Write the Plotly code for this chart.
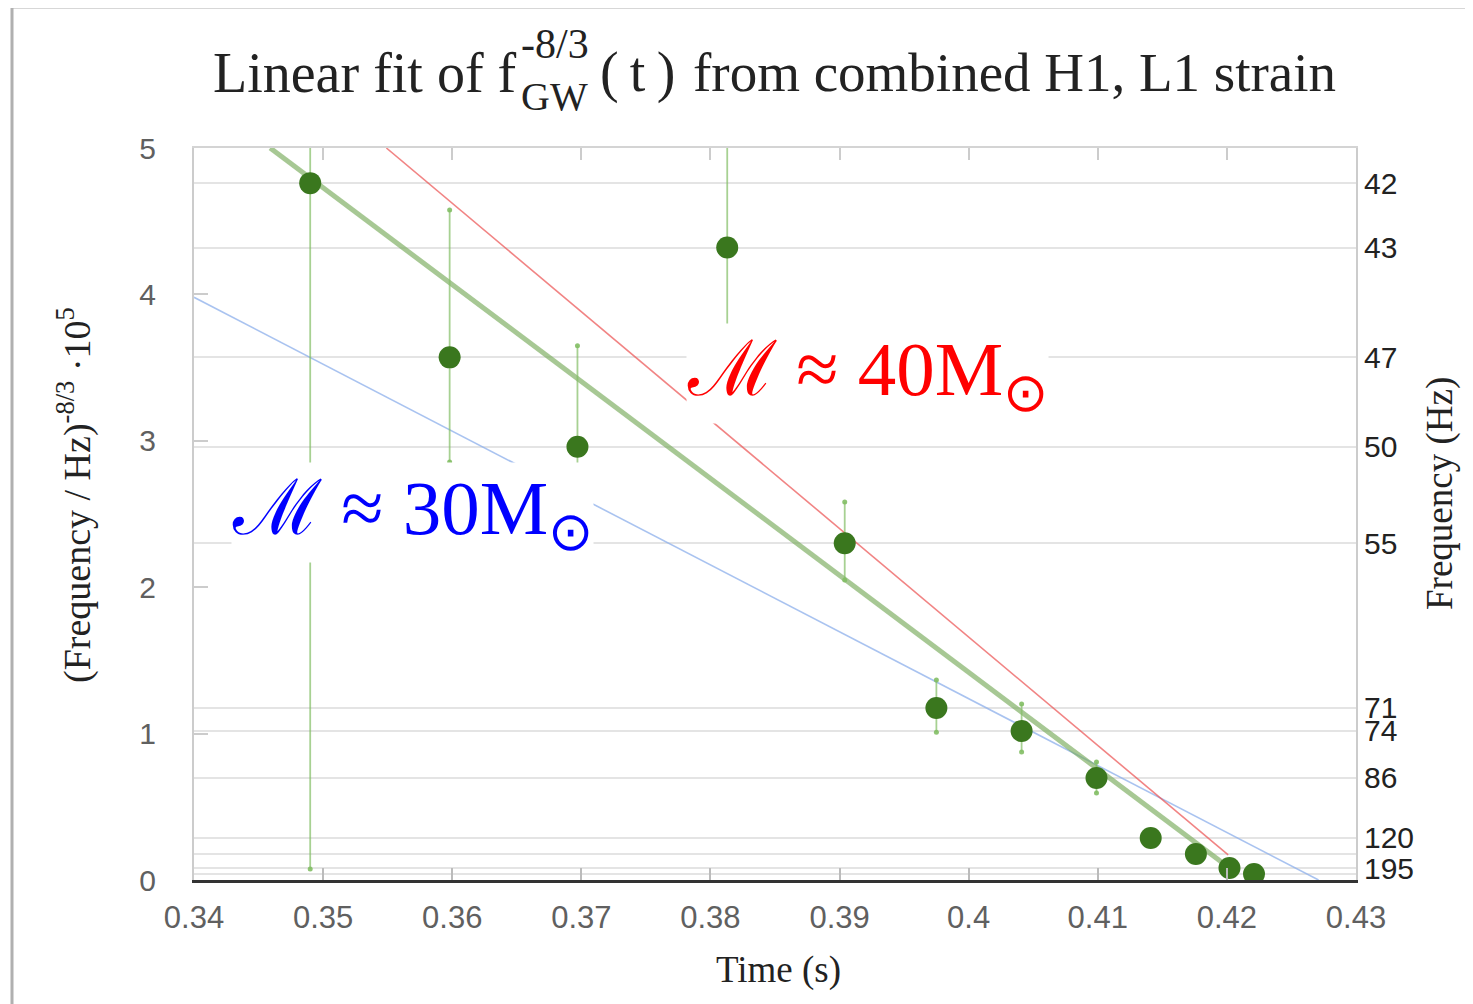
import plotly.graph_objects as go

# ---------------- data ----------------
time_s = [0.3490, 0.3598, 0.3697, 0.3813, 0.3904, 0.3975, 0.4041, 0.4099, 0.4141, 0.4176, 0.4202, 0.4221]
f_pow = [4.76, 3.57, 2.96, 4.32, 2.30, 1.175, 1.018, 0.697, 0.287, 0.178, 0.082, 0.041]
err_hi = [5.60, 4.577, 3.65, 5.40, 2.582, 1.366, 1.202, 0.806, 0.287, 0.178, 0.082, 0.041]
err_lo = [0.075, 2.855, 2.60, 3.55, 2.049, 1.010, 0.874, 0.594, 0.287, 0.178, 0.082, 0.041]
freq_labels = ["42", "47", "50", "43", "55", "71", "74", "86", "120", "", "195", ""]

fit_t = [0.3459, 0.4202]
fit_y = [5.0, 0.082]
m40_t = [0.3549, 0.4201]
m40_y = [5.0, 0.171]
m30_t = [0.3400, 0.4271]
m30_y = [3.98, 0.0]

x_ticks = [0.34, 0.35, 0.36, 0.37, 0.38, 0.39, 0.40, 0.41, 0.42, 0.43]
x_tick_text = ["0.34", "0.35", "0.36", "0.37", "0.38", "0.39", "0.4", "0.41", "0.42", "0.43"]
y_ticks = [0, 1, 2, 3, 4, 5]

# right-axis ticks sorted by value (keeps text aligned with positions)
right_pairs = sorted(zip(f_pow, freq_labels))
right_vals = [p[0] for p in right_pairs]
right_text = [p[1] for p in right_pairs]

OFF = 8  # page body margin
W, H = 1473 - OFF, 1004 - OFF
L, R, T, B = 194, 1356, 148, 880  # plot area in screenshot pixels


def px(xp):
    return (xp - L) / (R - L)


def py(yp):
    return (B - yp) / (B - T)


SERIF = "Liberation Serif, Times New Roman, serif"
SANS = "Liberation Sans, Arial, sans-serif"

fig = go.Figure()

fig.add_trace(go.Scatter(x=m30_t, y=m30_y, mode="lines",
                         line=dict(color="rgba(140,175,235,0.75)", width=1.6),
                         hoverinfo="skip", showlegend=False))
fig.add_trace(go.Scatter(x=m40_t, y=m40_y, mode="lines",
                         line=dict(color="rgba(235,80,80,0.7)", width=1.6),
                         hoverinfo="skip", showlegend=False))
fig.add_trace(go.Scatter(x=fit_t, y=fit_y, mode="lines",
                         line=dict(color="rgba(120,170,90,0.65)", width=5),
                         hoverinfo="skip", showlegend=False))

# error bars
fig.add_trace(go.Scatter(
    x=time_s, y=f_pow, mode="markers",
    marker=dict(size=1, color="rgba(0,0,0,0)"),
    error_y=dict(type="data", symmetric=False,
                 array=[h - v for h, v in zip(err_hi, f_pow)],
                 arrayminus=[v - l for l, v in zip(err_lo, f_pow)],
                 color="rgba(130,190,100,0.7)", thickness=1.8, width=0),
    hoverinfo="skip", showlegend=False))
# end dots of the error bars
fig.add_trace(go.Scatter(
    x=time_s + time_s, y=err_hi + err_lo, mode="markers",
    marker=dict(size=5, color="rgba(130,190,100,0.9)"),
    hoverinfo="skip", showlegend=False))
# data points
fig.add_trace(go.Scatter(
    x=time_s, y=f_pow, mode="markers",
    marker=dict(size=22, color="#3a771e"),
    showlegend=False))
# invisible trace to create the top / right axes
fig.add_trace(go.Scatter(x=[0.34], y=[0], xaxis="x2", yaxis="y2", mode="markers",
                         marker=dict(size=1, color="rgba(0,0,0,0)"),
                         hoverinfo="skip", showlegend=False))

fig.update_layout(
    width=W, height=H,
    margin=dict(l=L - OFF, r=(1473 - R), t=T - OFF, b=(1004 - B)),
    paper_bgcolor="white", plot_bgcolor="white",
    xaxis=dict(range=[0.34, 0.43], tickvals=x_ticks, ticktext=x_tick_text,
               ticks="inside", ticklen=12, tickcolor="#bbbbbb", tickwidth=1.5,
               showline=True, linecolor="#333333", linewidth=3,
               showgrid=False, zeroline=False,
               tickfont=dict(family=SANS, size=31, color="#606060"),
               ticklabelstandoff=8),
    yaxis=dict(range=[0, 5], tickvals=y_ticks,
               ticks="inside", ticklen=14, tickcolor="#cccccc", tickwidth=1.5,
               showline=True, linecolor="#cccccc", linewidth=2,
               showgrid=False, zeroline=False,
               tickfont=dict(family=SANS, size=30, color="#606060"),
               ticklabelstandoff=30),
    xaxis2=dict(range=[0.34, 0.43], overlaying="x", side="top", anchor="y2",
                tickvals=x_ticks, ticks="inside", ticklen=12, tickcolor="#cccccc", tickwidth=1.5,
                showline=True, linecolor="#d4d4d4", linewidth=2,
                showticklabels=False, showgrid=False, zeroline=False),
    yaxis2=dict(range=[0, 5], overlaying="y", side="right", anchor="x2",
                tickvals=right_vals, ticktext=right_text, ticks="",
                showline=True, linecolor="#cccccc", linewidth=2,
                showgrid=True, gridcolor="#e4e4e4", gridwidth=2, zeroline=False,
                tickfont=dict(family=SANS, size=30, color="#222222"),
                ticklabelstandoff=0),
)

ann = []
# title pieces
ann.append(dict(text="Linear fit of f", x=px(519), y=py(73), xanchor="right", yanchor="middle",
                font=dict(family=SERIF, size=56, color="#222222")))
ann.append(dict(text="-8/3", x=px(519), y=py(44), xanchor="left", yanchor="middle",
                font=dict(family=SERIF, size=42, color="#222222")))
ann.append(dict(text="GW", x=px(519), y=py(97), xanchor="left", yanchor="middle",
                font=dict(family=SERIF, size=40, color="#222222")))
ann.append(dict(text="(\u2009t\u2009)", x=px(598), y=py(73), xanchor="left", yanchor="middle",
                font=dict(family=SERIF, size=56, color="#222222")))
ann.append(dict(text="from combined H1, L1 strain", x=px(691), y=py(73), xanchor="left", yanchor="middle",
                font=dict(family=SERIF, size=55, color="#222222")))
# axis titles
ann.append(dict(text="Time (s)", x=px(779), y=py(970), xanchor="center", yanchor="middle",
                font=dict(family=SERIF, size=37, color="#222222")))
ann.append(dict(text="(Frequency / Hz)<sup>-8/3</sup> \u00b710<sup>5</sup>", x=px(74), y=py(495),
                xanchor="center", yanchor="middle", textangle=-90,
                font=dict(family=SERIF, size=38, color="#222222")))
ann.append(dict(text="Frequency (Hz)", x=px(1440), y=py(494), xanchor="center", yanchor="middle",
                textangle=-90, font=dict(family=SERIF, size=37, color="#222222")))
for a in ann:
    a.update(xref="paper", yref="paper", showarrow=False)

MCAL = "<span style='font-family:DejaVu Serif'>\u2133</span>"
# chirp-mass labels
fig.add_annotation(text=MCAL + " \u2248 40M<sub>\u2299</sub>", x=0.39213, y=3.463, xref="x", yref="y",
                   showarrow=False, xanchor="center", yanchor="middle",
                   bgcolor="white", borderpad=0,
                   font=dict(family=SERIF, size=77, color="#ff0000"))
fig.add_annotation(text=MCAL + " \u2248 30M<sub>\u2299</sub>", x=0.35689, y=2.507, xref="x", yref="y",
                   showarrow=False, xanchor="center", yanchor="middle",
                   bgcolor="white", borderpad=0,
                   font=dict(family=SERIF, size=77, color="#0000ff"))
for a in ann:
    fig.add_annotation(**a)

# outer frame
fig.add_shape(type="rect", xref="paper", yref="paper",
              x0=px(12), x1=px(1485), y0=py(1015), y1=py(7),
              line=dict(color="#b0b0b0", width=3), fillcolor="rgba(0,0,0,0)", layer="below")

fig.write_html("out.html")
